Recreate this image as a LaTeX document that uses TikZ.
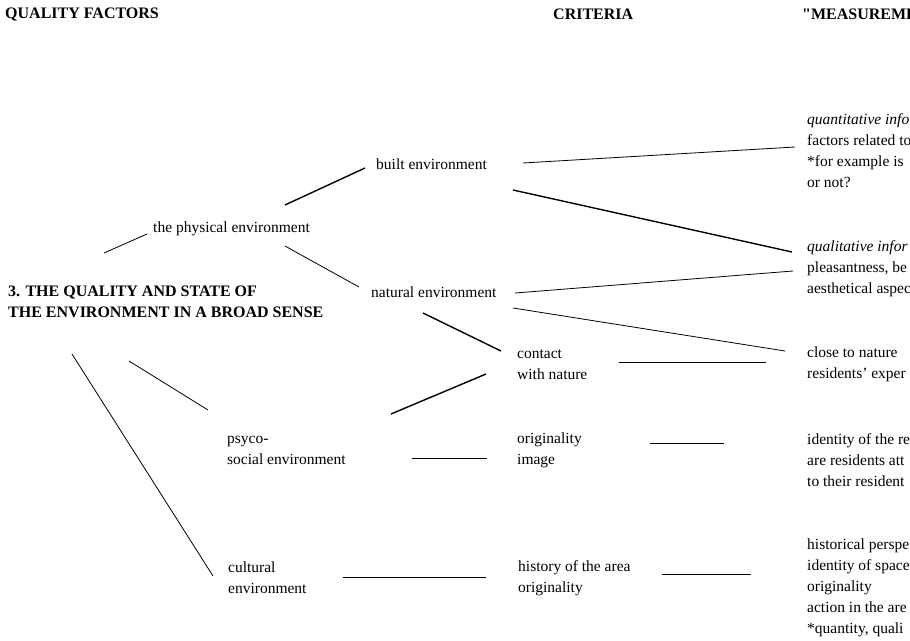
\documentclass[tikz,border=0pt]{standalone}
\usepackage{fontspec}
\setmainfont{Liberation Serif}

\begin{document}
\begin{tikzpicture}[x = 1pt, y = -1pt,
						plain text/.style={anchor = west, inner sep = 0, align = left,
							font = \fontsize{15.5}{21}\selectfont},
						heading text/.style={plain text, font = \fontsize{16}{21}\selectfont\bfseries},
						thin link/.style={line width = 0.8pt},
						thick link/.style={line width = 1.4pt},
						]
	
		% Page frame, the right column runs off the page
		\useasboundingbox (0, 0) rectangle (910, 640);
		\clip (0, 0) rectangle (910, 640);
		
		% Column headings
		\node[heading text] (qualityFactors) at (5, 14) {QUALITY FACTORS};
		\node[heading text] (criteria) at (553, 14) {CRITERIA};
		\node[heading text] (measurements) at (802, 14) {\textquotedbl MEASUREME};
		
		% Quality factors
		\node[heading text] (title) at (8, 301.5) {3. THE QUALITY AND STATE OF\\THE ENVIRONMENT IN A BROAD SENSE};
		\node[plain text] (physical) at (153, 229) {the physical environment};
		\node[plain text] (psycoSocial) at (227, 450) {psyco-\\social environment};
		\node[plain text] (cultural) at (228, 578) {cultural\\environment};
		
		% Criteria
		\node[plain text] (built) at (376, 164) {built environment};
		\node[plain text] (natural) at (371, 292) {natural environment};
		\node[plain text] (contact) at (517, 365) {contact\\with nature};
		\node[plain text] (originality) at (517, 450) {originality\\image};
		\node[plain text] (history) at (518, 578) {history of the area\\originality};
		
		% Measurements
		\node[plain text] (quantitative) at (807, 151) {\textit{quantitative info}\\factors related to\\*for example is\\or not?};
		\node[plain text] (qualitative) at (807, 269) {\textit{qualitative infor}\\pleasantness, be\\aesthetical aspec};
		\node[plain text] (closeNature) at (807, 364) {close to nature\\residents\textquoteright{} exper};
		\node[plain text] (identity) at (807, 460) {identity of the re\\are residents att\\to their resident};
		\node[plain text] (historical) at (807, 588) {historical perspe\\identity of space\\originality\\action in the are\\*quantity, quali};
		
		% Links from the title
		\draw[thin link] ([shift={(96, -48.5)}]title.west) -- ([shift={(-6, 5)}]physical.west);
		\draw[thin link] ([shift={(121, 59.5)}]title.west) -- ([shift={(-19, -40)}]psycoSocial.west);
		\draw[thin link] ([shift={(64, 52.5)}]title.west) -- ([shift={(-15, -2)}]cultural.west);
		
		% Links from the quality factors
		\draw[thick link] ([shift={(132, -24)}]physical.west) -- ([shift={(-11, 4)}]built.west);
		\draw[thin link] ([shift={(132, 17)}]physical.west) -- ([shift={(-12, -5)}]natural.west);
		\draw[thick link] ([shift={(164, -36)}]psycoSocial.west) -- ([shift={(-31, 9)}]contact.west);
		\draw[thin link] ([shift={(185, 8)}]psycoSocial.west) -- ([shift={(-30, 8)}]originality.west);
		\draw[thin link] ([shift={(115, -1)}]cultural.west) -- ([shift={(-32, -1)}]history.west);
		\draw[thick link] ([shift={(52, 21)}]natural.west) -- ([shift={(-16, -14)}]contact.west);
		
		% Links from the criteria
		\draw[thin link] ([shift={(147, -1)}]built.west) -- ([shift={(-12, -4)}]quantitative.west);
		\draw[thick link] ([shift={(137, 26)}]built.west) -- ([shift={(-15, -17)}]qualitative.west);
		\draw[thin link] ([shift={(144, 1)}]natural.west) -- ([shift={(-14, 2)}]qualitative.west);
		\draw[thin link] ([shift={(142, 16)}]natural.west) -- ([shift={(-22, -13)}]closeNature.west);
		\draw[thin link] ([shift={(102, -3)}]contact.west) -- ([shift={(-41, -2)}]closeNature.west);
		\draw[thin link] ([shift={(133, -7)}]originality.west) -- ([shift={(-83, -17)}]identity.west);
		\draw[thin link] ([shift={(144, -4)}]history.west) -- ([shift={(-56, -14)}]historical.west);
		
	\end{tikzpicture}
\end{document}
